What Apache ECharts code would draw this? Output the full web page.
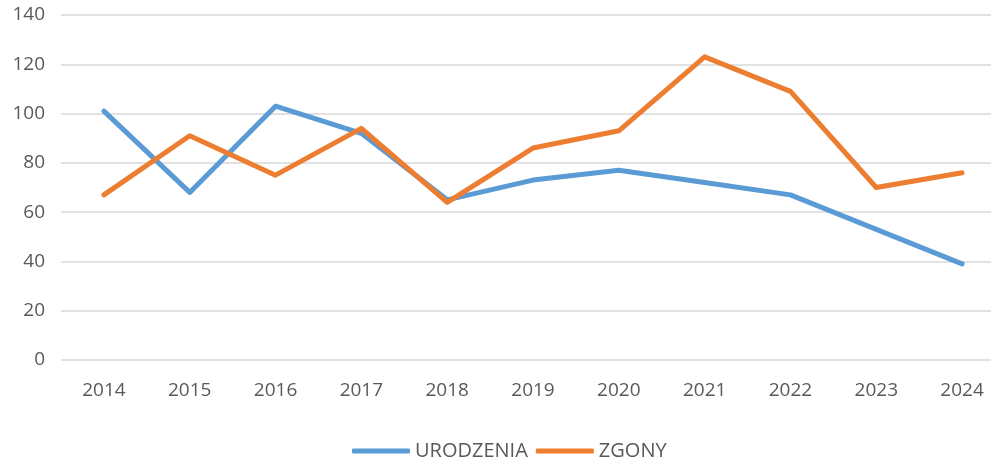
<!DOCTYPE html>
<html><head><meta charset="utf-8">
<script src="https://cdn.jsdelivr.net/npm/echarts@6/dist/echarts.min.js"></script>
<style>html,body{margin:0;padding:0;background:#fff;overflow:hidden;width:991px;height:461px}#c{width:1006px;height:461px}</style>
</head><body><div id="c"></div>
<script>
const years = ['2014','2015','2016','2017','2018','2019','2020','2021','2022','2023','2024'];
const urodzenia = [101,68,103,92,65,73,77,72,67,53,39];
const zgony = [67,91,75,94,64,86,93,123,109,70,76];
const yTicks = {min:0, max:140, interval:20};

const chart = echarts.init(document.getElementById('c'), null, {renderer:'canvas'});
const font = 'Open Sans, Noto Sans, sans-serif';
chart.setOption({
  animation:false,
  grid:{left:61, top:15, width:944, height:345},
  legend:{
    top:436, left:347, itemWidth:58, itemHeight:5, itemGap:8,
    icon:'roundRect',
    textStyle:{color:'#595959', fontSize:20, fontFamily:font},
    data:['URODZENIA','ZGONY']
  },
  xAxis:{
    type:'category', data:years, boundaryGap:true,
    axisLine:{show:false}, axisTick:{show:false},
    axisLabel:{color:'#595959', fontSize:19, fontFamily:font, margin:21}
  },
  yAxis:{
    type:'value', min:yTicks.min, max:yTicks.max, interval:yTicks.interval,
    axisLine:{show:false}, axisTick:{show:false},
    axisLabel:{color:'#595959', fontSize:19, fontFamily:font, margin:16},
    splitLine:{lineStyle:{color:'#D9D9D9', width:1.5}}
  },
  series:[
    {name:'URODZENIA', type:'line', data:urodzenia, symbol:'none',
     lineStyle:{color:'#5B9BD5', width:5, cap:'round', join:'round'}, itemStyle:{color:'#5B9BD5'}},
    {name:'ZGONY', type:'line', data:zgony, symbol:'none',
     lineStyle:{color:'#ED7D31', width:5, cap:'round', join:'round'}, itemStyle:{color:'#ED7D31'}}
  ]
});
</script></body></html>
